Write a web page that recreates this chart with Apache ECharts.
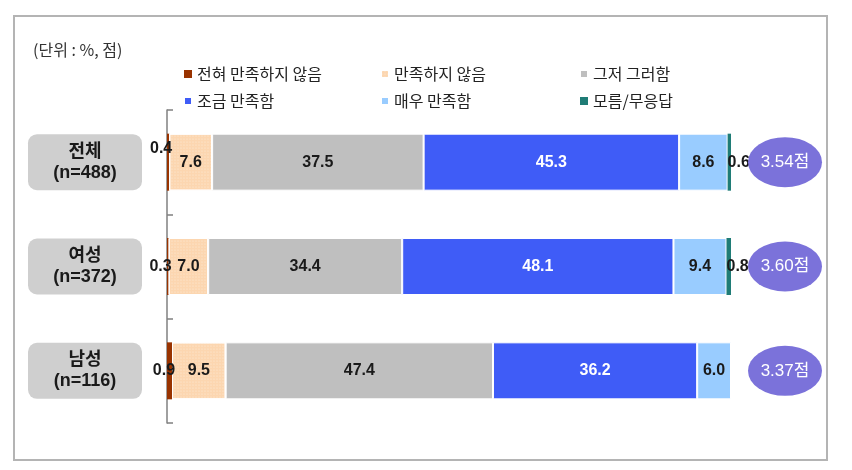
<!DOCTYPE html>
<html><head><meta charset="utf-8">
<script src="https://cdn.jsdelivr.net/npm/echarts@6/dist/echarts.min.js"></script>
<style>html,body{margin:0;padding:0;background:#fff}#c{width:852px;height:470px}
#frame{position:absolute;left:13px;top:15px;width:811px;height:442px;border:2px solid #b4b4b4;box-sizing:content-box;pointer-events:none}</style>
</head><body><div id="c"></div><div id="frame"></div>
<script>
const categories = ['전체\n(n=488)', '여성\n(n=372)', '남성\n(n=116)'];
const seriesNames = ['전혀 만족하지 않음', '만족하지 않음', '그저 그러함', '조금 만족함', '매우 만족함', '모름/무응답'];
const veryDissatisfied = [0.4, 0.3, 0.9];
const dissatisfied = [7.6, 7.0, 9.5];
const neutral = [37.5, 34.4, 47.4];
const somewhatSatisfied = [45.3, 48.1, 36.2];
const verySatisfied = [8.6, 9.4, 6.0];
const noAnswer = [0.6, 0.8, 0];
const scores = [3.54, 3.60, 3.37];

const colors = ['#993300', '#FCD6B0', '#BFBFBF', '#3F5CF7', '#99CCFF', '#1F7C76'];
const values = [veryDissatisfied, dissatisfied, neutral, somewhatSatisfied, verySatisfied, noAnswer];
const font = '"Liberation Sans", Arial, "Noto Sans CJK KR", sans-serif';
const krFont = '"Noto Sans CJK KR", sans-serif';

const barSeries = values.map((arr, i) => {
  const small = (i === 0 || i === 5);
  const itemStyle = {
    color: colors[i],
    borderColor: small ? 'transparent' : '#fff',
    borderWidth: small ? 0 : 1
  };
  if (i === 1) {
    itemStyle.decal = {symbol: 'circle', symbolSize: 0.6, color: 'rgba(255,255,255,0.55)', dashArrayX: [2, 1], dashArrayY: [2, 1]};
  }
  return {
    name: seriesNames[i],
    type: 'bar',
    stack: 'total',
    barWidth: 57,
    xAxisIndex: 0, yAxisIndex: 0,
    itemStyle: itemStyle,
    label: {
      show: true,
      position: i === 0 ? 'insideRight' : (i === 5 ? 'insideLeft' : 'inside'),
      distance: i === 0 ? -3 : 0,
      color: i === 3 ? '#fff' : '#1a1a1a',
      fontWeight: 'bold',
      fontSize: 16,
      fontFamily: font,
      formatter: p => p.value > 0 ? p.value.toFixed(1) : ''
    },
    emphasis: {disabled: true},
    data: arr.map((v, k) => (i === 0 && k === 0) ? {value: v, label: {offset: [0, -14]}} : v)
  };
});

const option = {
  animation: false,
  title: {text: '(단위 : %, 점)', left: 28, top: 37, textStyle: {fontSize: 16, fontWeight: 'normal', color: '#333', fontFamily: krFont}},
  legend: [
    {data: [seriesNames[0], seriesNames[3]], orient: 'vertical', left: 178, top: 61},
    {data: [seriesNames[1], seriesNames[4]], orient: 'vertical', left: 375, top: 61},
    {data: [seriesNames[2], seriesNames[5]], orient: 'vertical', left: 574, top: 61}
  ].map(l => Object.assign(l, {itemWidth: 8, itemHeight: 8, itemGap: 11, icon: 'rect', selectedMode: false,
      textStyle: {fontSize: 16, color: '#222', fontFamily: krFont, padding: [0, 0, 0, 0]}})),
  grid: [
    {left: 167, right: 121, top: 110, bottom: 47},
    {left: 748, width: 74, top: 110, bottom: 47}
  ],
  xAxis: [
    {type: 'value', gridIndex: 0, min: 0, max: 100, show: false},
    {type: 'category', gridIndex: 1, data: ['평균'], show: false}
  ],
  yAxis: [
    {type: 'category', gridIndex: 0, data: categories, inverse: true,
     axisLine: {lineStyle: {color: '#808080', width: 1.5}},
     axisTick: {show: true, inside: true, length: 6, lineStyle: {color: '#808080', width: 1.5}},
     axisLabel: {
       margin: 82, align: 'center', verticalAlign: 'middle',
       fontSize: 18, fontWeight: 'bold', color: '#1a1a1a', lineHeight: 21, fontFamily: font,
       backgroundColor: '#CFCFCF', borderRadius: 9, width: 114, padding: [7, 0, 7, 0]
     }},
    {type: 'category', gridIndex: 1, data: categories, inverse: true, show: false}
  ],
  series: barSeries.concat([{
    type: 'scatter',
    xAxisIndex: 1, yAxisIndex: 1,
    symbol: 'circle',
    symbolSize: [74, 50],
    itemStyle: {color: '#7B72DA', opacity: 1},
    label: {show: true, position: 'inside', color: '#fff', fontSize: 17, fontFamily: font,
            formatter: p => p.value[2].toFixed(2) + '점'},
    emphasis: {disabled: true},
    data: scores.map((s, i) => ['평균', categories[i], s])
  }])
};
const chart = echarts.init(document.getElementById('c'), null, {renderer: 'canvas'});
chart.setOption(option);
</script></body></html>
